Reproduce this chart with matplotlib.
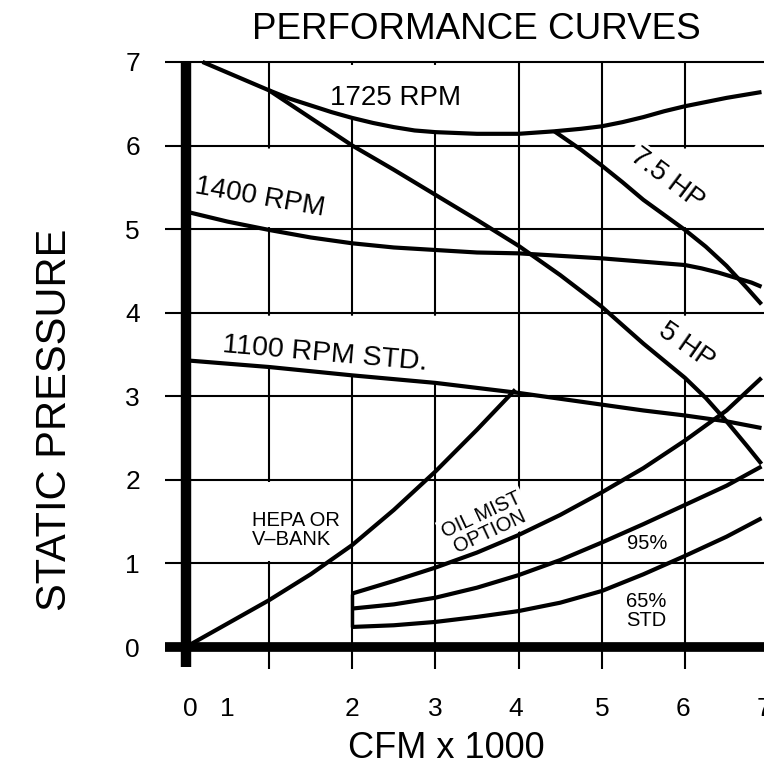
import matplotlib
matplotlib.use('Agg')
import matplotlib.pyplot as plt
import numpy as np

plt.rcParams['font.family'] = ['Liberation Sans', 'DejaVu Sans']

# fan curves (CFM x 1000, static pressure)
rpm1725_x = [0.2, 0.6, 1.0, 1.25, 1.5, 1.75, 2.0, 2.25, 2.5, 2.75, 3.0, 3.5, 4.0, 4.43,
             4.75, 5.0, 5.25, 5.5, 5.75, 6.0, 6.25, 6.5, 6.92]
rpm1725_y = [7.0, 6.83, 6.66, 6.56, 6.48, 6.40, 6.33, 6.27, 6.22, 6.18, 6.16, 6.14, 6.14, 6.17,
             6.20, 6.23, 6.28, 6.34, 6.41, 6.47, 6.52, 6.57, 6.64]

rpm1400_x = [0.0, 0.5, 1.0, 1.5, 2.0, 2.5, 3.0, 3.5, 4.0, 4.5, 5.0, 5.5, 6.0, 6.2, 6.4, 6.6, 6.8, 6.92]
rpm1400_y = [5.21, 5.09, 4.99, 4.9, 4.83, 4.78, 4.75, 4.72, 4.71, 4.68, 4.65, 4.61, 4.57, 4.53,
             4.48, 4.42, 4.36, 4.31]

rpm1100_x = [0.0, 1.0, 2.0, 3.0, 3.5, 4.0, 4.5, 5.0, 5.5, 6.0, 6.5, 6.92]
rpm1100_y = [3.43, 3.35, 3.25, 3.16, 3.1, 3.04, 2.97, 2.9, 2.83, 2.77, 2.7, 2.62]

# horsepower limits
hp5_x = [1.0, 1.5, 2.0, 2.5, 3.0, 3.5, 4.0, 4.5, 5.0, 5.5, 6.0, 6.25, 6.5, 6.75, 6.92]
hp5_y = [6.66, 6.33, 6.0, 5.71, 5.41, 5.11, 4.8, 4.45, 4.07, 3.63, 3.22, 2.98, 2.7, 2.4, 2.19]

hp75_x = [4.43, 4.75, 5.0, 5.25, 5.5, 5.75, 6.0, 6.25, 6.5, 6.75, 6.92]
hp75_y = [6.17, 5.95, 5.76, 5.56, 5.35, 5.17, 4.99, 4.79, 4.56, 4.29, 4.1]

# system / filter curves
hepa_x = [0.0, 0.5, 1.0, 1.5, 2.0, 2.5, 3.0, 3.5, 3.96]
hepa_y = [0.0, 0.28, 0.56, 0.87, 1.22, 1.64, 2.1, 2.6, 3.08]

oil_x = [2.0, 2.5, 3.0, 3.5, 4.0, 4.5, 5.0, 5.5, 6.0, 6.5, 6.92]
oil_y = [0.64, 0.79, 0.95, 1.13, 1.34, 1.58, 1.85, 2.14, 2.47, 2.83, 3.22]

f95_x = [2.0, 2.5, 3.0, 3.5, 4.0, 4.5, 5.0, 5.5, 6.0, 6.5, 6.92]
f95_y = [0.46, 0.51, 0.59, 0.71, 0.86, 1.04, 1.25, 1.47, 1.70, 1.93, 2.16]

f65_x = [2.0, 2.5, 3.0, 3.5, 4.0, 4.5, 5.0, 5.5, 6.0, 6.5, 6.92]
f65_y = [0.24, 0.26, 0.30, 0.36, 0.43, 0.53, 0.67, 0.87, 1.09, 1.32, 1.54]

grid_x = [1, 2, 3, 4, 5, 6, 7]
grid_y = [1, 2, 3, 4, 5, 6, 7]
xtick_pos = [0.05, 0.5, 2.0, 3.0, 3.96, 5.0, 5.97, 6.95]
xtick_lab = ['0', '1', '2', '3', '4', '5', '6', '7']
ytick_pos = [0, 1, 2, 3, 4, 5, 6, 7]

xmax = 6.916
fig = plt.figure(figsize=(7.64, 7.68), dpi=100)
ax = fig.add_axes([0.2106, 0.1249, 0.7894, 0.7999])
ax.set_xlim(-0.3, xmax)
ax.set_ylim(-0.3, 7.05)
for s in ax.spines.values():
    s.set_visible(False)

# grid
ax.vlines(grid_x, -0.26, 7, color='black', lw=1.5, zorder=1)
ax.hlines(grid_y, -0.25, xmax + 0.1, color='black', lw=1.5, zorder=1)
# heavy axes
ax.vlines(0, -0.24, 7, color='black', lw=7.5, zorder=5)
ax.hlines(0, -0.25, xmax + 0.1, color='black', lw=7, zorder=5)


def blank(xs, ys, lo, hi, floor, ceil):
    # white out the grid between a curve and the grid line above, behind a label
    xx = np.linspace(lo, hi, 60)
    yy = np.maximum(np.interp(xx, xs, ys), floor)
    ax.fill_between(xx, yy, ceil, color='white', lw=0, zorder=1.5)


blank(rpm1725_x, rpm1725_y, 1.75, 3.3, 6.0, 6.97)
blank(rpm1400_x, rpm1400_y, 0.05, 1.3, 5.03, 5.97)
blank(rpm1100_x, rpm1100_y, 0.05, 3.3, 3.03, 3.97)
blank(hp75_x, hp75_y, 5.6, 6.3, 5.03, 5.97)
blank(hp5_x, hp5_y, 5.7, 6.3, 3.03, 3.97)
ax.fill_between([0.7, 1.9], 1.03, 1.97, color='white', lw=0, zorder=1.5)

lw = 3.0
for xs, ys in [(rpm1725_x, rpm1725_y), (rpm1400_x, rpm1400_y), (rpm1100_x, rpm1100_y),
               (hp5_x, hp5_y), (hp75_x, hp75_y), (hepa_x, hepa_y),
               (oil_x, oil_y), (f95_x, f95_y), (f65_x, f65_y)]:
    ax.plot(xs, ys, color='black', lw=lw, zorder=3, solid_capstyle='butt',
            solid_joinstyle='round')
# left edge of the filter curves
ax.vlines(2.0, f65_y[0], oil_y[0], color='black', lw=2.5, zorder=3)

ax.set_xticks(xtick_pos, xtick_lab)
ax.set_yticks(ytick_pos)
ax.tick_params(axis='both', length=0, labelsize=19)
ax.tick_params(axis='x', pad=18)
ax.tick_params(axis='y', pad=15)

box = dict(facecolor='white', edgecolor='none', pad=2)
big = 20
ax.text(2.52, 6.57, '1725 RPM', fontsize=big, ha='center', va='center', zorder=2, bbox=box)
ax.text(0.885, 5.38, '1400 RPM', fontsize=big, ha='center', va='center', rotation=-10,
        rotation_mode='anchor', zorder=2, bbox=box)
ax.text(1.67, 3.5, '1100 RPM STD.', fontsize=20.5, ha='center', va='center', rotation=-5,
        rotation_mode='anchor', zorder=2, bbox=box)
ax.text(5.78, 5.6, '7.5 HP', fontsize=big, ha='center', va='center', rotation=-37,
        rotation_mode='anchor', zorder=2, bbox=box)
ax.text(6.02, 3.6, '5 HP', fontsize=big, ha='center', va='center', rotation=-35,
        rotation_mode='anchor', zorder=2, bbox=box)

small = 14.5
ax.text(0.8, 1.4, 'HEPA OR\nV\u2013BANK', fontsize=small, ha='left', va='center',
        linespacing=1.05, zorder=2)
ax.text(3.6, 1.48, 'OIL MIST\nOPTION', fontsize=small, ha='center', va='center',
        rotation=25, rotation_mode='anchor', linespacing=1.0, zorder=2, bbox=box)
ax.text(5.55, 1.24, '95%', fontsize=small, ha='center', va='center', zorder=2, bbox=box)
ax.text(5.53, 0.43, '65%\nSTD', fontsize=small, ha='center', va='center',
        linespacing=1.05, zorder=2, bbox=box)

fig.text(0.623, 0.961, 'PERFORMANCE CURVES', fontsize=26.5, ha='center', va='center')
fig.text(0.072, 0.453, 'STATIC PRESSURE', fontsize=30, ha='center', va='center', rotation=90)
fig.text(0.584, 0.026, 'CFM x 1000', fontsize=26, ha='center', va='center')

fig.savefig('out.png', dpi=100)
